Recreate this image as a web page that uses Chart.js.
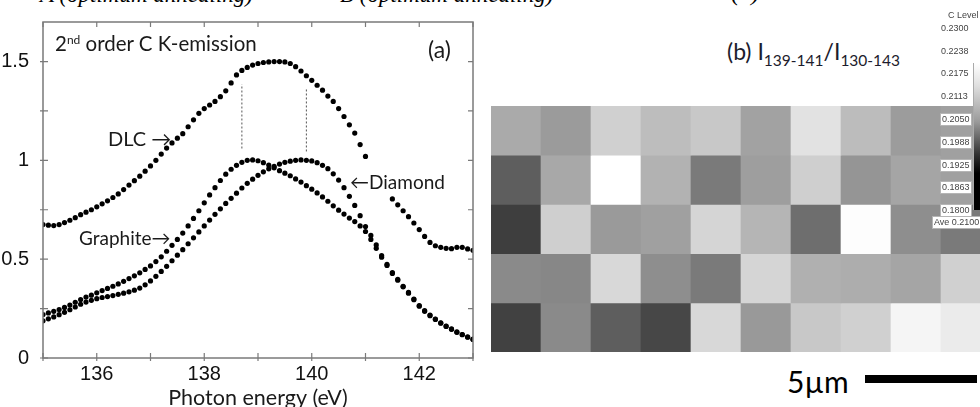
<!DOCTYPE html>
<html>
<head>
<meta charset="utf-8">
<script src="https://cdn.jsdelivr.net/npm/chart.js@4.4.0/dist/chart.umd.min.js"></script>
<style>
  body { margin: 0; width: 980px; height: 407px; overflow: hidden; background: #fff; position: relative; font-family: Lato, sans-serif; color: #1a1a1a; }
  canvas { position: absolute; }
  .lbl { position: absolute; white-space: nowrap; line-height: 1; }
  .cut { font-family: "Liberation Serif", serif; font-style: italic; font-size: 23px; top: -17px; color: #000; }
  .lvl { position: absolute; white-space: nowrap; font-family: "Liberation Sans", sans-serif; font-size: 9px; color: #444; line-height: 11px; padding: 0 1px; }
  .boxed { background: #fff; border: 1px solid #b5b5b5; }
</style>
</head>
<body>

<div class="lbl cut" style="left:40px">A (optimum annealing)</div>
<div class="lbl cut" style="left:340px">B (optimum annealing)</div>
<div class="lbl cut" style="left:731px;font-size:26px;top:-21px">(c)</div>

<canvas id="spectra" width="490" height="420" style="left:0;top:0"></canvas>
<canvas id="map" width="500" height="246" style="left:491px;top:106px"></canvas>

<div class="lbl" style="left:55px;top:33px;font-size:20.5px">2<sup style="font-size:12px;vertical-align:7px">nd</sup> order C K-emission</div>
<div class="lbl" style="left:428px;top:38px;font-size:23px">(a)</div>
<div class="lbl" style="left:108px;top:128px;font-size:20px">DLC →</div>
<div class="lbl" style="left:79px;top:228px;font-size:19px">Graphite→</div>
<div class="lbl" style="left:350px;top:172px;font-size:19px">←Diamond</div>

<div class="lbl" style="left:727px;top:40px;font-size:23px;color:#1c1c2c">(b) I<sub style="font-size:15.5px">139-141</sub>/I<sub style="font-size:15.5px">130-143</sub></div>

<div id="bar" style="position:absolute;left:973px;top:63px;width:8px;height:147px;border-left:1px solid #aaa;background:linear-gradient(to bottom,#fff 0%,#e0e0e0 15%,#9a9a9a 40%,#333 62%,#000 75%,#000 100%)"></div>
<div class="lvl" style="left:947px;top:10px">C Level</div>
<div id="levels"></div>

<div class="lbl" style="left:787px;top:366px;font-size:30px;color:#000">5µm</div>
<div style="position:absolute;left:865px;top:375px;width:112px;height:8px;background:#000"></div>

<script>
// photon energy grid (eV)
const energies = [
  135.0, 135.1, 135.2, 135.3, 135.4, 135.5, 135.6, 135.7, 135.8, 135.9,
  136.0, 136.1, 136.2, 136.3, 136.4, 136.5, 136.6, 136.7, 136.8, 136.9,
  137.0, 137.1, 137.2, 137.3, 137.4, 137.5, 137.6, 137.7, 137.8, 137.9,
  138.0, 138.1, 138.2, 138.3, 138.4, 138.5, 138.6, 138.7, 138.8, 138.9,
  139.0, 139.1, 139.2, 139.3, 139.4, 139.5, 139.6, 139.7, 139.8, 139.9,
  140.0, 140.1, 140.2, 140.3, 140.4, 140.5, 140.6, 140.7, 140.8, 140.9,
  141.0, 141.1, 141.2, 141.3, 141.4, 141.5, 141.6, 141.7, 141.8, 141.9,
  142.0, 142.1, 142.2, 142.3, 142.4, 142.5, 142.6, 142.7, 142.8, 142.9,
  143.0
];

const dlc = [
  0.675, 0.672, 0.670, 0.675, 0.685, 0.697, 0.710, 0.725, 0.738, 0.750,
  0.765, 0.780, 0.795, 0.812, 0.830, 0.852, 0.875, 0.897, 0.920, 0.945,
  0.972, 1.000, 1.032, 1.062, 1.088, 1.112, 1.135, 1.170, 1.205, 1.238,
  1.262, 1.280, 1.298, 1.322, 1.352, 1.392, 1.432, 1.455, 1.470, 1.482,
  1.490, 1.495, 1.498, 1.500, 1.500, 1.498, 1.490, 1.474, 1.452, 1.428,
  1.405, 1.380, 1.355, 1.325, 1.298, 1.262, 1.222, 1.180, 1.138, 1.080,
  1.020, null, null, null, null, 0.805, 0.775, 0.745, 0.715, 0.683,
  0.650, 0.615, 0.585, 0.568, 0.560, 0.555, 0.553, 0.560, 0.560, 0.552,
  0.545
];

const graphite = [
  0.220, 0.228, 0.236, 0.245, 0.256, 0.268, 0.282, 0.296, 0.308, 0.318,
  0.330, 0.341, 0.352, 0.363, 0.375, 0.388, 0.402, 0.416, 0.431, 0.448,
  0.466, 0.488, 0.512, 0.540, 0.570, 0.600, 0.632, 0.668, 0.706, 0.745,
  0.785, 0.825, 0.862, 0.898, 0.930, 0.955, 0.975, 0.990, 1.000, 1.002,
  0.998, 0.988, 0.976, 0.962, 0.948, 0.935, 0.922, 0.906, 0.890, 0.872,
  0.854, 0.835, 0.815, 0.793, 0.770, 0.748, 0.728, 0.708, 0.690, 0.668,
  0.640, 0.600, 0.555, 0.510, 0.468, 0.428, 0.394, 0.360, 0.328, 0.295,
  0.262, 0.236, 0.214, 0.195, 0.176, 0.160, 0.145, 0.130, 0.118, 0.105,
  0.094
];

const diamond = [
  0.188, 0.198, 0.208, 0.219, 0.231, 0.244, 0.258, 0.272, 0.283, 0.292,
  0.300, 0.306, 0.311, 0.316, 0.322, 0.328, 0.335, 0.343, 0.354, 0.370,
  0.390, 0.413, 0.438, 0.464, 0.492, 0.520, 0.548, 0.578, 0.608, 0.638,
  0.668, 0.698, 0.727, 0.755, 0.782, 0.808, 0.834, 0.860, 0.884, 0.905,
  0.924, 0.942, 0.957, 0.970, 0.981, 0.990, 0.996, 1.000, 1.002, 1.000,
  0.997, 0.988, 0.975, 0.958, 0.932, 0.900, 0.862, 0.818, 0.772, 0.720,
  0.665, 0.620, 0.572, 0.518, 0.474, 0.432, 0.398, 0.363, 0.332, 0.298,
  0.265, 0.240, 0.217, 0.197, 0.178, 0.162, 0.147, 0.132, 0.119, 0.107,
  0.095
];

// dotted guides marking the two peak positions
const guideEnergy = [138.7, 139.9];
const guideLow = [1.06, 1.045];
const guideHigh = [1.385, 1.36];

const xLabels = [136, 138, 140, 142];
const yLabels = [0, 0.5, 1, 1.5];

// map of I(139-141)/I(130-143), 5 rows x 10 columns (top row first)
const mapRow1 = [0.2133, 0.2104, 0.2208, 0.2171, 0.2192, 0.2118, 0.2243, 0.2169, 0.2106, 0.2114];
const mapRow2 = [0.1984, 0.2129, 0.2300, 0.2149, 0.2039, 0.2110, 0.2206, 0.2092, 0.2124, 0.2114];
const mapRow3 = [0.1922, 0.2206, 0.2102, 0.2114, 0.2218, 0.2155, 0.2016, 0.2296, 0.2078, 0.2039];
const mapRow4 = [0.2071, 0.2065, 0.2224, 0.2078, 0.2039, 0.2218, 0.2145, 0.2139, 0.2124, 0.2208];
const mapRow5 = [0.1927, 0.2071, 0.1984, 0.1939, 0.2224, 0.2100, 0.2192, 0.2208, 0.2280, 0.2261];
const mapColumns = ['1', '2', '3', '4', '5', '6', '7', '8', '9', '10'];

const levelTicks = ['0.2300', '0.2238', '0.2175', '0.2113', '0.2050', '0.1988', '0.1925', '0.1863', '0.1800'];
const levelMin = 0.18, levelMax = 0.23;
const levelAverage = '0.2100';

function toPoints(values) {
    return energies.map((e, i) => ({ x: e, y: values[i] }));
}

function dots(values) {
    return {
        data: toPoints(values),
        showLine: false,
        pointRadius: 2.6,
        pointBackgroundColor: '#000',
        pointBorderWidth: 0
    };
}

const datasets = [dots(dlc), dots(graphite), dots(diamond)];
guideEnergy.forEach((e, i) => {
    datasets.push({
        type: 'line',
        data: [{ x: e, y: guideLow[i] }, { x: e, y: guideHigh[i] }],
        borderColor: '#555',
        borderWidth: 1,
        borderDash: [2, 2],
        pointRadius: 0
    });
});

// frame with inward tick marks on all four sides
const frameTicks = {
    id: 'frameTicks',
    afterDatasetsDraw(chart) {
        const { ctx, chartArea: a, scales: { x, y } } = chart;
        ctx.save();
        ctx.strokeStyle = '#7a7a7a';
        ctx.lineWidth = 1.5;
        ctx.strokeRect(a.left, a.top, a.right - a.left, a.bottom - a.top);
        ctx.lineWidth = 1.2;
        ctx.beginPath();
        x.ticks.forEach(t => {
            const px = x.getPixelForValue(t.value);
            ctx.moveTo(px, a.bottom + 3);
            ctx.lineTo(px, a.bottom - 5);
            ctx.moveTo(px, a.top);
            ctx.lineTo(px, a.top + 5);
        });
        y.ticks.forEach(t => {
            if (t.value > 1.6) return;
            const py = y.getPixelForValue(t.value);
            ctx.moveTo(a.left - 3, py);
            ctx.lineTo(a.left + 5, py);
            ctx.moveTo(a.right, py);
            ctx.lineTo(a.right - 5, py);
        });
        ctx.stroke();
        ctx.restore();
    }
};

new Chart(document.getElementById('spectra'), {
    type: 'scatter',
    data: { datasets },
    options: {
        responsive: false,
        animation: false,
        layout: { padding: { top: 22, right: 17, left: 0, bottom: 0 } },
        plugins: { legend: { display: false }, tooltip: { enabled: false } },
        scales: {
            x: {
                type: 'linear',
                min: 135,
                max: 143,
                grid: { display: false },
                border: { display: false },
                afterFit: s => { s.height = 62; },
                ticks: {
                    stepSize: 1,
                    autoSkip: false,
                    maxRotation: 0,
                    padding: -4,
                    color: '#111',
                    font: { family: 'Liberation Sans', size: 20 },
                    callback: v => xLabels.includes(v) ? String(v) : ''
                },
                title: {
                    display: true,
                    text: 'Photon energy (eV)',
                    color: '#1a1a1a',
                    font: { family: 'Lato', size: 21.5 },
                    padding: { top: 0, bottom: 9 }
                }
            },
            y: {
                min: 0,
                max: 1.7,
                grid: { display: false },
                border: { display: false },
                afterFit: s => { s.width = 43; },
                ticks: {
                    stepSize: 0.25,
                    autoSkip: false,
                    padding: 6,
                    color: '#111',
                    font: { family: 'Liberation Sans', size: 20 },
                    callback: v => yLabels.includes(v) ? String(v) : ''
                }
            }
        }
    },
    plugins: [frameTicks]
});

// grey level for a ratio value (black = 0.18, white = 0.23)
function levelGray(v) {
    const g = Math.round(Math.max(0, Math.min(1, (v - levelMin) / (levelMax - levelMin))) * 255);
    return `rgb(${g}, ${g}, ${g})`;
}

const mapRows = [mapRow1, mapRow2, mapRow3, mapRow4, mapRow5];

new Chart(document.getElementById('map'), {
    type: 'bar',
    data: {
        labels: mapColumns,
        datasets: mapRows.map((row, r) => ({
            data: row.map(() => [r, r + 1]),
            backgroundColor: row.map(levelGray),
            borderWidth: 0,
            grouped: false,
            barPercentage: 1,
            categoryPercentage: 1
        }))
    },
    options: {
        responsive: false,
        animation: false,
        layout: { padding: 0 },
        plugins: { legend: { display: false }, tooltip: { enabled: false } },
        scales: {
            x: { display: false },
            y: { display: false, min: 0, max: 5, reverse: true }
        }
    }
});

// colour bar labels
const levelBox = document.getElementById('levels');
levelTicks.forEach((t, i) => {
    const d = document.createElement('div');
    const top = 23 + i * 22.6;
    d.className = 'lvl' + (top > 100 ? ' boxed' : '');
    d.style.left = '940px';
    d.style.top = top + 'px';
    d.textContent = t;
    levelBox.appendChild(d);
});
const ave = document.createElement('div');
ave.className = 'lvl boxed';
ave.style.left = '932px';
ave.style.top = '216px';
ave.textContent = 'Ave ' + levelAverage;
levelBox.appendChild(ave);
</script>
</body>
</html>
